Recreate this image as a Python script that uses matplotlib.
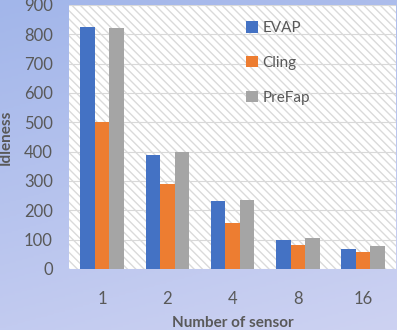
import numpy as np
import matplotlib.pyplot as plt
from matplotlib.colors import LinearSegmentedColormap
from matplotlib.patches import Rectangle

plt.rcParams['font.family'] = ['Lato', 'DejaVu Sans']
plt.rcParams['hatch.color'] = '#dadada'
plt.rcParams['hatch.linewidth'] = 1.0

# Data
sensors = ['1', '2', '4', '8', '16']
evap = [825, 388, 230, 97, 69]
cling = [500, 290, 158, 80, 59]
prefap = [822, 398, 234, 106, 79]

series = [('EVAP', evap, '#4472C4'),
          ('Cling', cling, '#ED7D31'),
          ('PreFap', prefap, '#A5A5A5')]

fig = plt.figure(figsize=(3.97, 3.30), dpi=100)

# gradient background
bg = fig.add_axes([0, 0, 1, 1], zorder=-10)
cmap = LinearSegmentedColormap.from_list('bg', ['#a2b6ea', '#cdd2f2'])
yy, xx = np.mgrid[0:1:200j, 0:1:200j]
bg.imshow(0.75 * yy + 0.25 * xx, cmap=cmap, aspect='auto',
          extent=[0, 1, 1, 0], vmin=0, vmax=1)
bg.axis('off')

ax = fig.add_axes([0.175, 0.185, 0.822, 0.800])
ax.set_facecolor('white')
ax.add_patch(Rectangle((0, 0), 1, 1, transform=ax.transAxes,
                       facecolor='white', hatch='\\\\\\\\', edgecolor='#dadada',
                       linewidth=0, zorder=0))

x = np.arange(len(sensors))
w = 0.222
for i, (name, vals, col) in enumerate(series):
    ax.bar(x + (i - 1) * w, vals, w, color=col, label=name, zorder=3)

ax.set_xlim(-0.5, len(sensors) - 0.5)
ax.set_ylim(0, 900)
ax.set_yticks(range(0, 901, 100))
ax.set_xticks(x)
ax.set_xticklabels(sensors)
ax.yaxis.grid(True, color='#d9d9d9', linewidth=0.8, zorder=1)
ax.set_axisbelow(True)
for s in ax.spines.values():
    s.set_visible(False)
ax.tick_params(length=0, labelsize=12, labelcolor='#595959')
ax.tick_params(axis='x', pad=16)
ax.tick_params(axis='y', pad=12)

ax.set_ylabel('Idleness', fontsize=11, fontweight='bold', color='#595959',
              labelpad=8)
ax.set_xlabel('Number of sensor', fontsize=11, fontweight='bold',
              color='#595959', labelpad=6)

leg = ax.legend(loc='upper left', bbox_to_anchor=(0.50, 0.99), frameon=False,
                fontsize=11, labelspacing=1.35, handlelength=0.75,
                handleheight=0.75, handletextpad=0.3)
for t in leg.get_texts():
    t.set_color('#595959')

fig.savefig('out.png', dpi=100)
